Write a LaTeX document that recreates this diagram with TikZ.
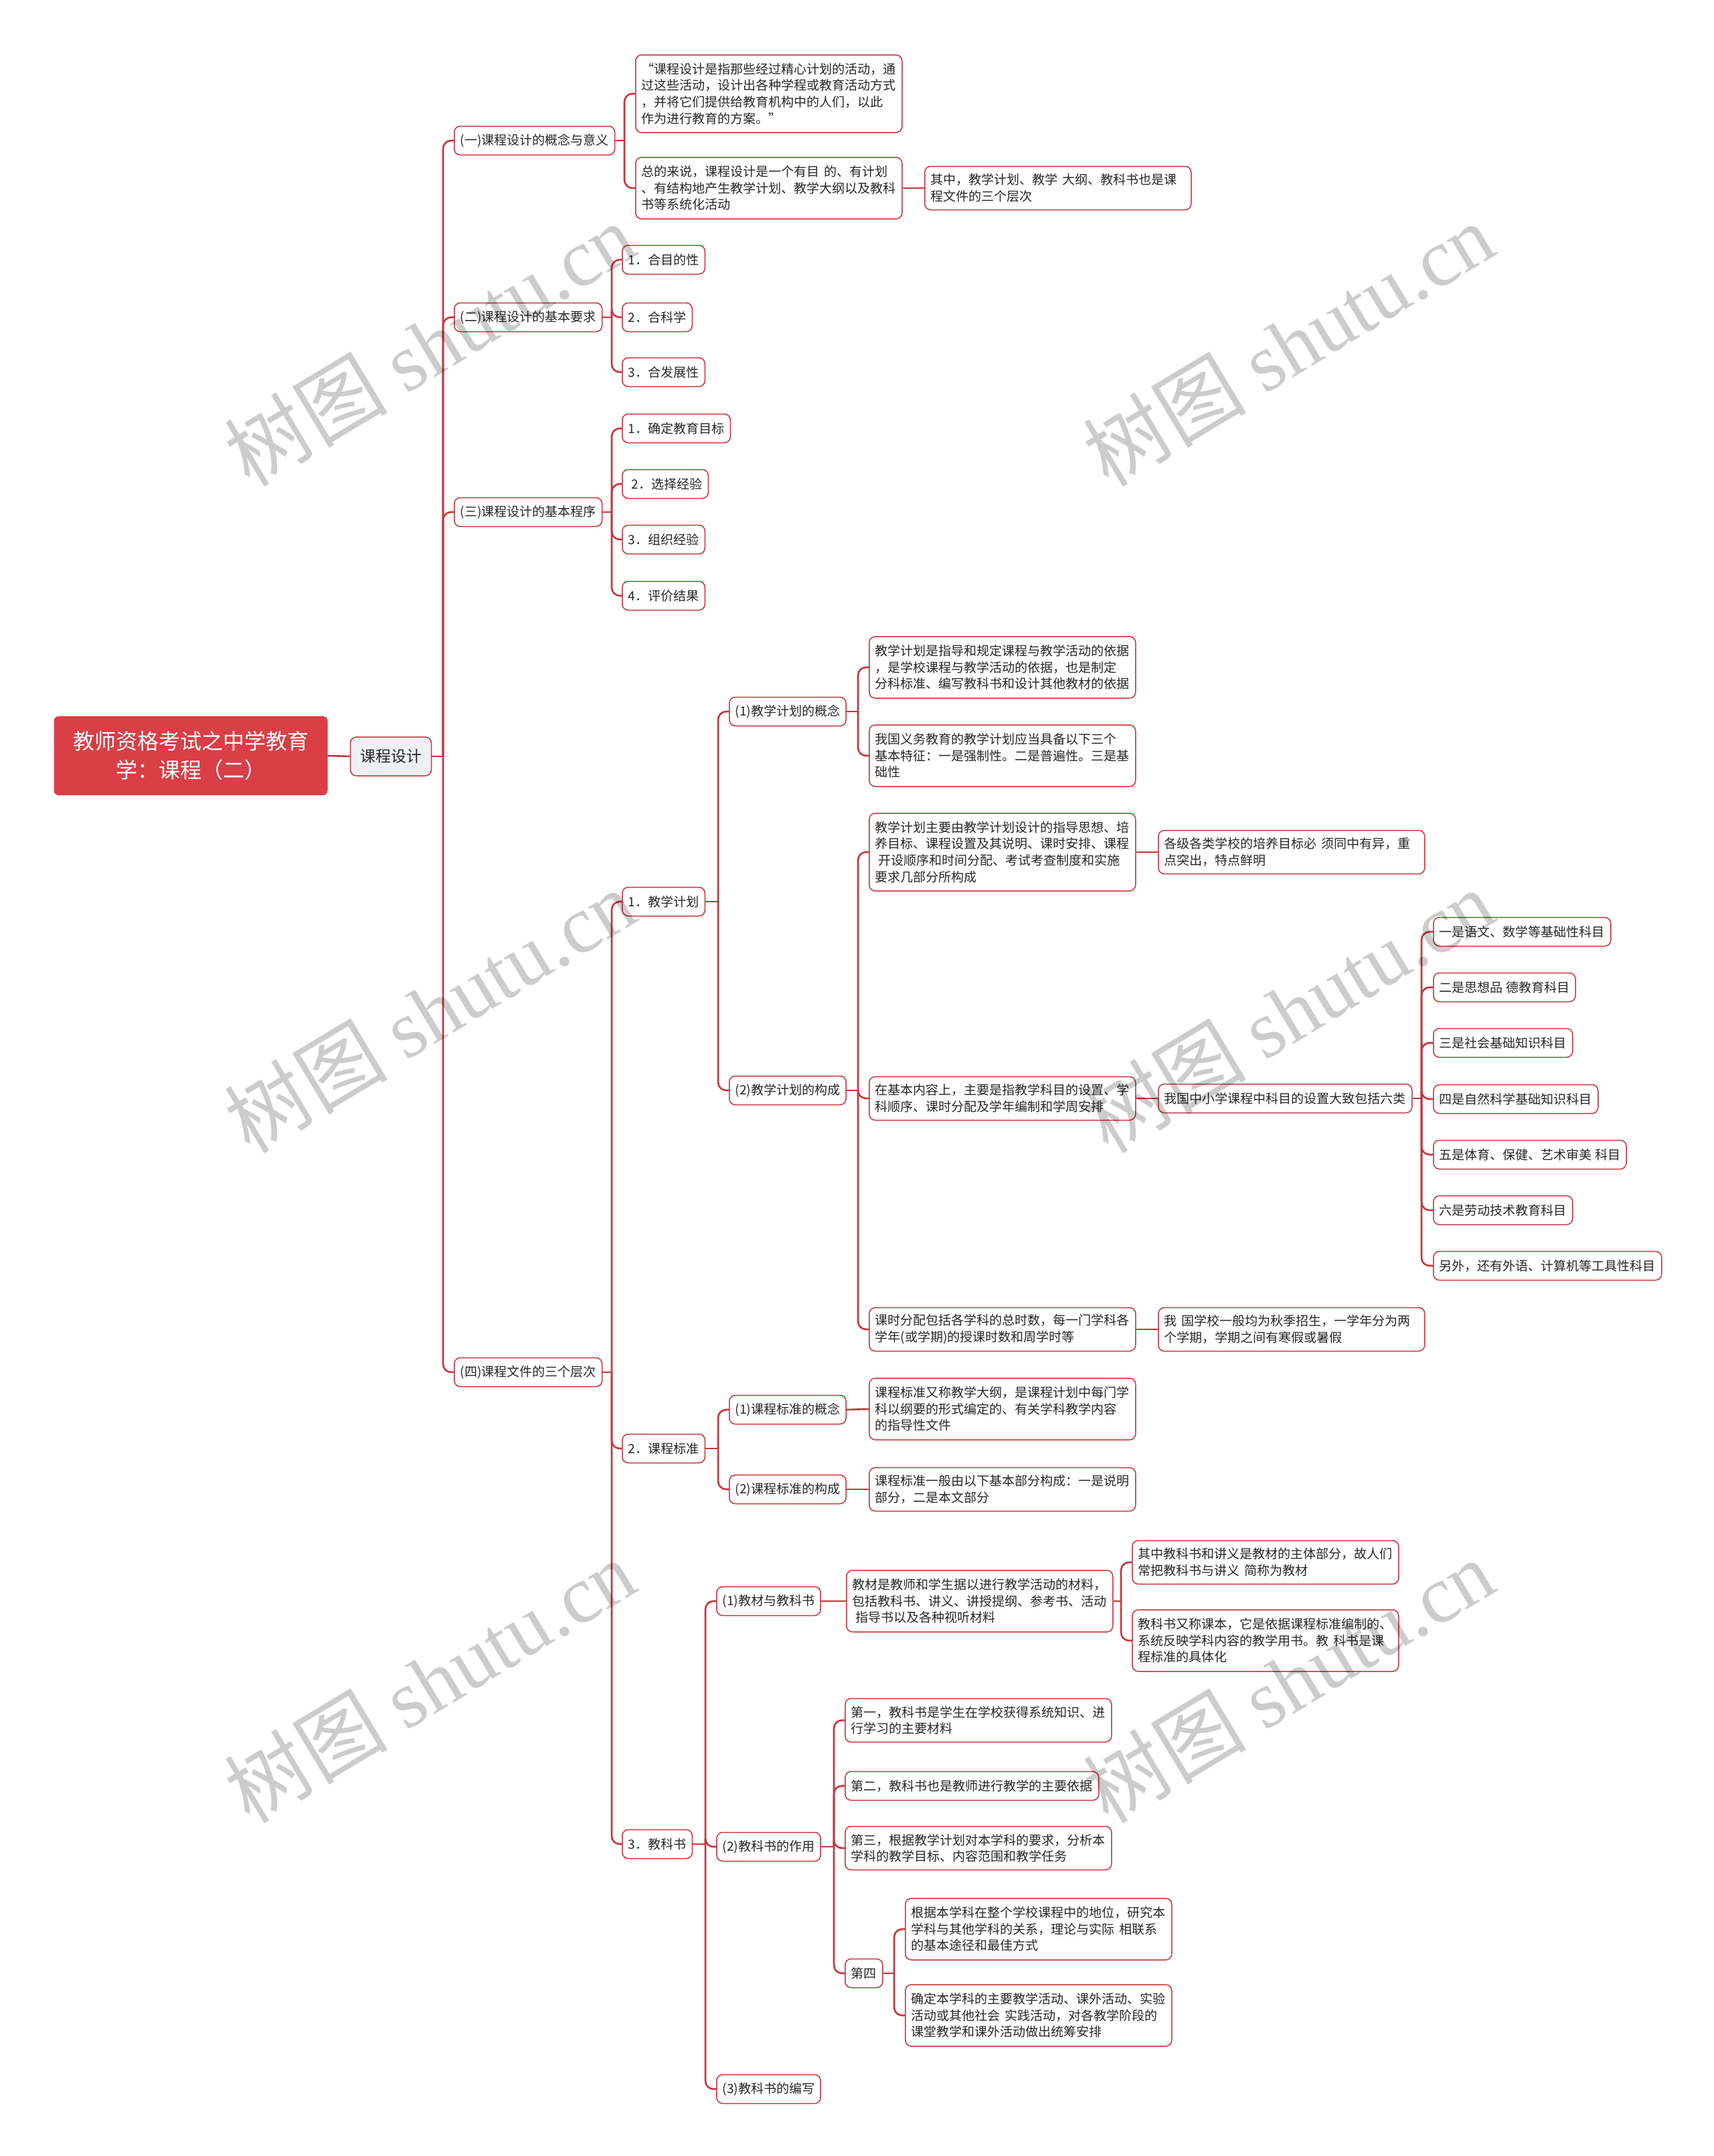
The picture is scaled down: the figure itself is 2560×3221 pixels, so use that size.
\documentclass[tikz,border=0pt]{standalone}
\usepackage{fontspec}
\setmainfont{Noto Sans CJK SC}
\newfontfamily\wmlatin{Liberation Serif}
\usetikzlibrary{backgrounds}
\pgfdeclarelayer{bottom}
\pgfsetlayers{bottom,background,main}
\definecolor{linered}{RGB}{200,52,60}
\definecolor{rootred}{RGB}{218,62,70}
\definecolor{topicgray}{RGB}{238,240,244}
\tikzset{
  conn/.style={draw=linered, line width=2.6pt},
  br/.style={conn, rounded corners=12pt},
  nb/.style={draw=linered, fill=white, line width=1.5pt, rounded corners=9pt,
    font=\fontsize{19pt}{24.6pt}\selectfont, inner xsep=9pt, inner ysep=0pt,
    minimum height=43pt, align=left, anchor=west, text=black!85},
  wide/.style={nb, text width=380pt},
  hh2/.style={wide, minimum height=65pt},
  hh3/.style={wide, minimum height=92pt},
  hh4/.style={wide, minimum height=116pt},
  rootbox/.style={fill=rootred, rounded corners=7pt, text=white,
    font=\fontsize{32pt}{43pt}\selectfont, align=center,
    minimum width=409pt, minimum height=118pt, inner sep=0pt},
  topicbox/.style={draw=linered, fill=topicgray, line width=1.5pt, rounded corners=9pt,
    font=\fontsize{23pt}{28pt}\selectfont, minimum width=121pt, minimum height=58pt,
    inner sep=0pt, text=black!85},
  wm/.style={text=black, text opacity=0.2, font=\fontsize{122pt}{122pt}\selectfont,
    rotate=31, inner sep=0pt}
}
\begin{document}
\begin{tikzpicture}[x=1pt,y=-1pt]
\begin{pgfonlayer}{bottom}
\fill[white] (0,0) rectangle (2560,3221);
\end{pgfonlayer}
\useasboundingbox (0,0) rectangle (2560,3221);

% root and topic
\node[rootbox] (root) at (285,1129) {教师资格考试之中学教育\\学：课程（二）};
\node[topicbox] (top) at (584,1130) {课程设计};

% level 1
\node[nb] (n1) at (678,210) {(一)课程设计的概念与意义};
\node[nb] (n2) at (678,474) {(二)课程设计的基本要求};
\node[nb] (n3) at (678,765) {(三)课程设计的基本程序};
\node[nb] (n4) at (678,2050) {(四)课程文件的三个层次};

% (一)
\node[hh4] (a1) at (949,140) {“课程设计是指那些经过精心计划的活动，通\\过这些活动，设计出各种学程或教育活动方式\\，并将它们提供给教育机构中的人们，以此\\作为进行教育的方案。”};
\node[hh3] (a2) at (949,281) {总的来说，课程设计是一个有目 的、有计划\\、有结构地产生教学计划、教学大纲以及教科\\书等系统化活动};
\node[hh2] (a2a) at (1381,281) {其中，教学计划、教学 大纲、教科书也是课\\程文件的三个层次};

% (二)
\node[nb] (b1) at (929,388) {1．合目的性};
\node[nb] (b2) at (929,474) {2．合科学};
\node[nb] (b3) at (929,556) {3．合发展性};

% (三)
\node[nb] (c1) at (929,640) {1．确定教育目标};
\node[nb] (c2) at (929,723) {\hspace*{5pt}2．选择经验};
\node[nb] (c3) at (929,806) {3．组织经验};
\node[nb] (c4) at (929,890) {4．评价结果};

% (四)
\node[nb] (d1) at (929,1347) {1．教学计划};
\node[nb] (d2) at (929,2164) {2．课程标准};
\node[nb] (d3) at (929,2755) {3．教科书};

% 教学计划
\node[nb] (e1) at (1089,1063) {(1)教学计划的概念};
\node[nb] (e2) at (1089,1629) {(2)教学计划的构成};
\node[hh3] (f1) at (1298,997) {教学计划是指导和规定课程与教学活动的依据\\，是学校课程与教学活动的依据，也是制定\\分科标准、编写教科书和设计其他教材的依据};
\node[hh3] (f2) at (1298,1129) {我国义务教育的教学计划应当具备以下三个\\基本特征：一是强制性。二是普遍性。三是基\\础性};
\node[hh4] (g1) at (1298,1273) {教学计划主要由教学计划设计的指导思想、培\\养目标、课程设置及其说明、课时安排、课程\\\hspace*{5pt}开设顺序和时间分配、考试考查制度和实施\\要求几部分所构成};
\node[hh2] (g1a) at (1730,1273) {各级各类学校的培养目标必 须同中有异，重\\点突出，特点鲜明};
\node[hh2] (g2) at (1298,1641) {在基本内容上，主要是指教学科目的设置、学\\科顺序、课时分配及学年编制和学周安排};
\node[nb] (g2a) at (1730,1641) {我国中小学课程中科目的设置大致包括六类};
\node[hh2] (g3) at (1298,1986) {课时分配包括各学科的总时数，每一门学科各\\学年(或学期)的授课时数和周学时等};
\node[hh2] (g3a) at (1730,1986) {我 国学校一般均为秋季招生，一学年分为两\\个学期，学期之间有寒假或暑假};

\node[nb] (h1) at (2141,1392) {一是语文、数学等基础性科目};
\node[nb] (h2) at (2141,1475) {二是思想品 德教育科目};
\node[nb] (h3) at (2141,1558) {三是社会基础知识科目};
\node[nb] (h4) at (2141,1642) {四是自然科学基础知识科目};
\node[nb] (h5) at (2141,1725) {五是体育、保健、艺术审美 科目};
\node[nb] (h6) at (2141,1808) {六是劳动技术教育科目};
\node[nb] (h7) at (2141,1891) {另外，还有外语、计算机等工具性科目};

% 课程标准
\node[nb] (i1) at (1089,2106) {(1)课程标准的概念};
\node[nb] (i2) at (1089,2225) {(2)课程标准的构成};
\node[hh3] (i1a) at (1298,2105) {课程标准又称教学大纲，是课程计划中每门学\\科以纲要的形式编定的、有关学科教学内容\\的指导性文件};
\node[hh2] (i2a) at (1298,2225) {课程标准一般由以下基本部分构成：一是说明\\部分，二是本文部分};

% 教科书
\node[nb] (j1) at (1070,2392) {(1)教材与教科书};
\node[nb] (j2) at (1070,2759) {(2)教科书的作用};
\node[nb] (j3) at (1070,3121) {(3)教科书的编写};
\node[hh3] (j1a) at (1264,2392) {教材是教师和学生据以进行教学活动的材料，\\包括教科书、讲义、讲授提纲、参考书、活动\\\hspace*{5pt}指导书以及各种视听材料};
\node[hh2] (j1b) at (1691,2334) {其中教科书和讲义是教材的主体部分，故人们\\常把教科书与讲义 简称为教材};
\node[hh3] (j1c) at (1691,2451) {教科书又称课本，它是依据课程标准编制的、\\系统反映学科内容的教学用书。教 科书是课\\程标准的具体化};
\node[hh2] (k1) at (1262,2570) {第一，教科书是学生在学校获得系统知识、进\\行学习的主要材料};
\node[nb] (k2) at (1262,2668) {第二，教科书也是教师进行教学的主要依据};
\node[hh2] (k3) at (1262,2761) {第三，根据教学计划对本学科的要求，分析本\\学科的教学目标、内容范围和教学任务};
\node[nb] (k4) at (1262,2948) {第四};
\node[hh3] (k4a) at (1352,2882) {根据本学科在整个学校课程中的地位，研究本\\学科与其他学科的关系，理论与实际 相联系\\的基本途径和最佳方式};
\node[hh3] (k4b) at (1352,3011) {确定本学科的主要教学活动、课外活动、实验\\活动或其他社会 实践活动，对各教学阶段的\\课堂教学和课外活动做出统筹安排};

\begin{pgfonlayer}{background}
\draw[conn] (root.east) -- (top.west);
% trunk
\coordinate (jt) at (662,0 |- top.east);
\draw[conn] (top.east) -- (jt);
\foreach \c in {n1,n2,n3,n4} \draw[br] (jt) |- (\c.west);
% (一)
\coordinate (ja) at (933,0 |- n1.east);
\draw[conn] (n1.east) -- (ja);
\foreach \c in {a1,a2} \draw[br] (ja) |- (\c.west);
\draw[conn] (a2.east) -- (a2a.west);
% (二)
\coordinate (jb) at (914,0 |- n2.east);
\draw[conn] (n2.east) -- (jb);
\foreach \c in {b1,b2,b3} \draw[br] (jb) |- (\c.west);
% (三)
\coordinate (jc) at (914,0 |- n3.east);
\draw[conn] (n3.east) -- (jc);
\foreach \c in {c1,c2,c3,c4} \draw[br] (jc) |- (\c.west);
% (四)
\coordinate (jd) at (914,0 |- n4.east);
\draw[conn] (n4.east) -- (jd);
\foreach \c in {d1,d2,d3} \draw[br] (jd) |- (\c.west);
% 教学计划
\coordinate (je) at (1073,0 |- d1.east);
\draw[conn] (d1.east) -- (je);
\foreach \c in {e1,e2} \draw[br] (je) |- (\c.west);
\coordinate (jf) at (1282,0 |- e1.east);
\draw[conn] (e1.east) -- (jf);
\foreach \c in {f1,f2} \draw[br] (jf) |- (\c.west);
\coordinate (jg) at (1282,0 |- e2.east);
\draw[conn] (e2.east) -- (jg);
\foreach \c in {g1,g2,g3} \draw[br] (jg) |- (\c.west);
\draw[conn] (g1.east) -- (g1a.west);
\draw[conn] (g2.east) -- (g2a.west);
\draw[conn] (g3.east) -- (g3a.west);
\coordinate (jh) at (2124,0 |- g2a.east);
\draw[conn] (g2a.east) -- (jh);
\foreach \c in {h1,h2,h3,h4,h5,h6,h7} \draw[br] (jh) |- (\c.west);
% 课程标准
\coordinate (ji) at (1073,0 |- d2.east);
\draw[conn] (d2.east) -- (ji);
\foreach \c in {i1,i2} \draw[br] (ji) |- (\c.west);
\draw[conn] (i1.east) -- (i1a.west);
\draw[conn] (i2.east) -- (i2a.west);
% 教科书
\coordinate (jj) at (1054,0 |- d3.east);
\draw[conn] (d3.east) -- (jj);
\foreach \c in {j1,j2,j3} \draw[br] (jj) |- (\c.west);
\draw[conn] (j1.east) -- (j1a.west);
\coordinate (jm) at (1675,0 |- j1a.east);
\draw[conn] (j1a.east) -- (jm);
\foreach \c in {j1b,j1c} \draw[br] (jm) |- (\c.west);
\coordinate (jk) at (1246,0 |- j2.east);
\draw[conn] (j2.east) -- (jk);
\foreach \c in {k1,k2,k3,k4} \draw[br] (jk) |- (\c.west);
\coordinate (jn) at (1336,0 |- k4.east);
\draw[conn] (k4.east) -- (jn);
\foreach \c in {k4a,k4b} \draw[br] (jn) |- (\c.west);
\end{pgfonlayer}

% watermarks
\node[wm] (wm1) at (642,514) {树图 {\wmlatin shutu.cn}};
\node[wm] (wm2) at (1925,514) {树图 {\wmlatin shutu.cn}};
\node[wm] (wm3) at (642,1510) {树图 {\wmlatin shutu.cn}};
\node[wm] (wm4) at (1925,1510) {树图 {\wmlatin shutu.cn}};
\node[wm] (wm5) at (642,2511) {树图 {\wmlatin shutu.cn}};
\node[wm] (wm6) at (1925,2511) {树图 {\wmlatin shutu.cn}};
\end{tikzpicture}
\end{document}
